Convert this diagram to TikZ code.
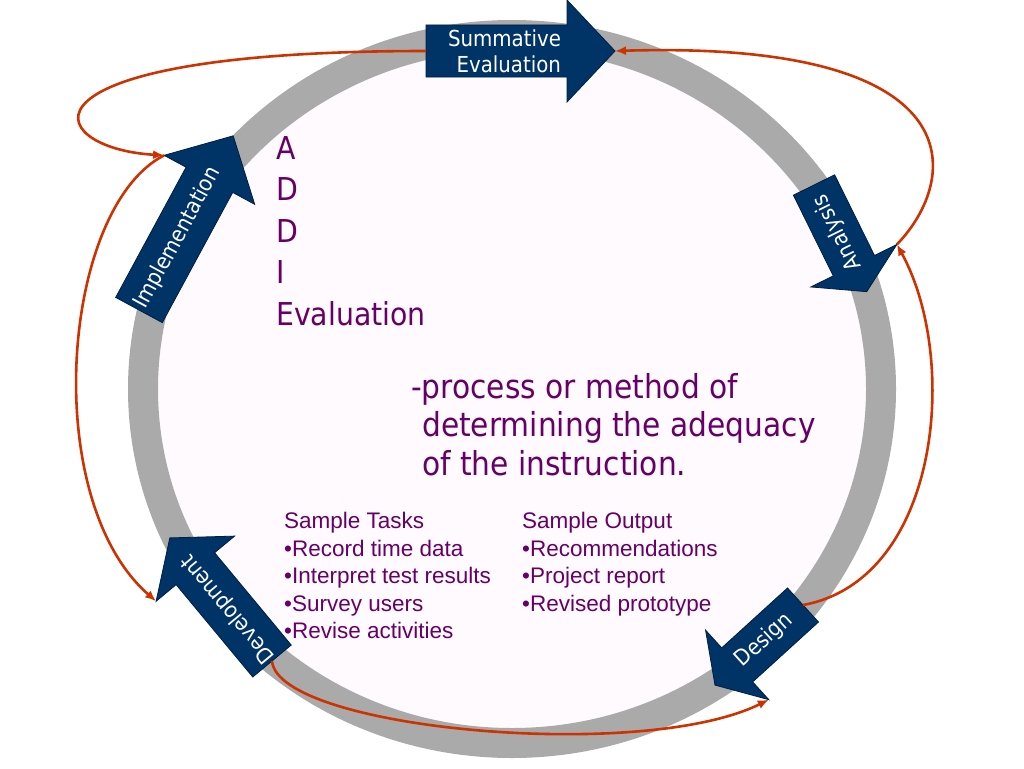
\documentclass[tikz,border=0pt]{standalone}
\usepackage{fontspec}
\setmainfont{Liberation Sans}
\newfontfamily\tahoma[FakeStretch=0.9]{DejaVu Sans}
\usetikzlibrary{arrows.meta}

\definecolor{navy}{RGB}{0,51,102}
\definecolor{navyline}{RGB}{0,30,65}
\definecolor{ringgrey}{RGB}{170,170,170}
\definecolor{paleinside}{RGB}{254,250,254}
\definecolor{plum}{RGB}{102,0,102}
\definecolor{rust}{RGB}{204,51,0}

\tikzset{
  arrowfill/.style={fill=navy, draw=navyline, line width=0.8pt},
  arrowlabel/.style={text=white, font=\tahoma\fontsize{22}{26}\selectfont, align=right, inner sep=0pt},
  feedback/.style={draw=rust, line width=2.6pt, -{Latex[length=11pt,width=9pt]}},
  ring/.style={draw=ringgrey, line width=30pt, fill=paleinside},
  plumtext/.style={text=plum, align=left, inner sep=0pt, anchor=north west},
}

% name, tail, angle, length, body width, head width, head length, label angle, label
\newcommand{\blockarrow}[9]{%
  \begin{scope}[shift={#2}, rotate=#3]
    \path[arrowfill] (0,-#5/2) -- ({#4-#7},-#5/2) -- ({#4-#7},-#6/2) -- (#4,0)
      -- ({#4-#7},#6/2) -- ({#4-#7},#5/2) -- (0,#5/2) -- cycle;
    \coordinate (#1-tail) at (0,0);
    \coordinate (#1-tip)  at (#4,0);
    \coordinate (#1-m)    at ({#4-#7},-#6/2);
    \coordinate (#1-p)    at ({#4-#7},#6/2);
    \node[arrowlabel, rotate=#8] (#1) at ({(#4-#7)/2+8},0) {#9};
  \end{scope}}

\begin{document}
\begin{tikzpicture}[x=1pt, y=-1pt]
  \useasboundingbox (0,0) rectangle (1024,768);
  \fill[white] (0,0) rectangle (1024,768);

  \path[ring] (512,389) ellipse [x radius=369, y radius=354];

  \blockarrow{sum}{(426,51)}{0}{189}{52}{102}{48}{0}{Summative\\Evaluation}
  \blockarrow{ana}{(814,185)}{-63.7}{119}{46}{96}{29}{116.3}{Analysis}
  \blockarrow{des}{(803,605)}{222.3}{119}{46}{94}{30}{42.3}{Design}
  \blockarrow{dev}{(272,661)}{129.7}{160}{50}{102}{40}{129.7}{Development}
  \blockarrow{imp}{(139,310)}{61.6}{198}{53}{103}{50}{61.6}{Implementation}

  % feedback loops
  \draw[feedback] (sum-tail) .. controls +(-426,0) and +(-123,-7) .. (imp-m);
  \draw[feedback] (imp-m) .. controls +(-103,53) and +(-117,-102) .. (dev-m);
  \draw[feedback] (dev-tail) .. controls +(6,68) and +(-127,63) .. (des-m);
  \draw[feedback] (des-tail) .. controls +(137,-25) and +(63,115) .. (ana-m);
  \draw[feedback] (ana-m) .. controls +(63,-65) and +(363,-11) .. (sum-tip);

  \node[plumtext, font=\tahoma\fontsize{31.5}{41.5}\selectfont] (addie) at (276,136)
    {A\\D\\D\\I\\Evaluation};
  \node[plumtext, font=\tahoma\fontsize{33}{38.5}\selectfont] (define) at (411,373)
    {-process or method of\\\hspace*{11pt}determining the adequacy\\\hspace*{11pt}of the instruction.};
  \node[plumtext, font=\fontsize{22.5}{27.5}\selectfont] (tasks) at (284,512)
    {Sample Tasks\\•Record time data\\•Interpret test results\\•Survey users\\•Revise activities};
  \node[plumtext, font=\fontsize{22.5}{27.5}\selectfont] (output) at (522,512)
    {Sample Output\\•Recommendations\\•Project report\\•Revised prototype};
\end{tikzpicture}
\end{document}
